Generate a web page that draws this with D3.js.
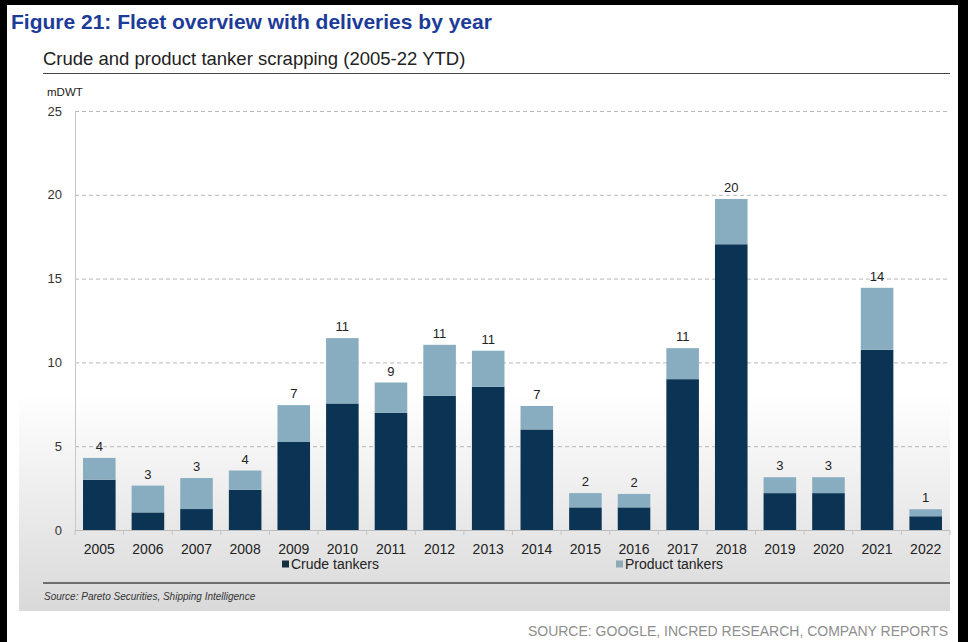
<!DOCTYPE html>
<html>
<head>
<meta charset="utf-8">
<script src="https://cdn.jsdelivr.net/npm/d3@7"></script>
<style>
  html, body { margin: 0; padding: 0; background: #fff; }
  svg { display: block; font-family: "Liberation Sans", Arial, sans-serif; }
</style>
</head>
<body>
<svg id="chart" width="968" height="642"></svg>
<script>
// Tanker scrapping, million DWT per year
const years = ["2005","2006","2007","2008","2009","2010","2011","2012","2013",
               "2014","2015","2016","2017","2018","2019","2020","2021","2022"];
const crude   = [3.0, 1.05, 1.25, 2.4, 5.25, 7.55, 7.0, 8.0, 8.55,
                 6.0, 1.35, 1.35, 9.0, 17.05, 2.2, 2.2, 10.75, 0.82];
const product = [1.3, 1.6, 1.85, 1.15, 2.2, 3.9, 1.8, 3.05, 2.15,
                 1.4, 0.85, 0.8, 1.85, 2.7, 0.95, 0.95, 3.7, 0.42];
const yTicks = [0, 5, 10, 15, 20, 25];
const seriesNames = ["Crude tankers", "Product tankers"];
const seriesColors = ["#0b3353", "#88adc1"];

const svg = d3.select("#chart");
const W = 968, H = 642;

// Panel background: white fading to light grey at the bottom
const defs = svg.append("defs");
const grad = defs.append("linearGradient")
  .attr("id", "panelFade").attr("x1", 0).attr("y1", 0).attr("x2", 0).attr("y2", 1);
grad.append("stop").attr("offset", "0%").attr("stop-color", "#ffffff");
grad.append("stop").attr("offset", "64%").attr("stop-color", "#ffffff");
grad.append("stop").attr("offset", "100%").attr("stop-color", "#d9d9d9");

svg.append("rect").attr("x", 0).attr("y", 0).attr("width", W).attr("height", H).attr("fill", "#fff");
svg.append("rect").attr("x", 19).attr("y", 8).attr("width", 931).attr("height", 603)
  .attr("fill", "url(#panelFade)");

// Frame bands
svg.append("rect").attr("x", 0).attr("y", 0).attr("width", W).attr("height", 5).attr("fill", "#000");
svg.append("rect").attr("x", 0).attr("y", 0).attr("width", 7).attr("height", H).attr("fill", "#000");
svg.append("rect").attr("x", 958).attr("y", 0).attr("width", 10).attr("height", H).attr("fill", "#000");

// Headings
svg.append("text").attr("x", 11).attr("y", 29)
  .attr("font-size", 21).attr("font-weight", "bold").attr("fill", "#1d3b98")
  .text("Figure 21: Fleet overview with deliveries by year");
svg.append("text").attr("x", 43).attr("y", 65)
  .attr("font-size", 18.5).attr("fill", "#222")
  .text("Crude and product tanker scrapping (2005-22 YTD)");
svg.append("line").attr("x1", 43).attr("x2", 950).attr("y1", 73.5).attr("y2", 73.5)
  .attr("stroke", "#444").attr("stroke-width", 1);
svg.append("text").attr("x", 47).attr("y", 96)
  .attr("font-size", 11.5).attr("fill", "#222").text("mDWT");

// Scales
const x = d3.scaleBand().domain(years).range([75, 950]).paddingInner(0.33).paddingOuter(0.165);
const y = d3.scaleLinear().domain([0, 25]).range([530, 111]);

// Grid lines
svg.append("g").selectAll("line").data(yTicks.filter(d => d > 0)).join("line")
  .attr("x1", 75).attr("x2", 950)
  .attr("y1", d => y(d) + 0.5).attr("y2", d => y(d) + 0.5)
  .attr("stroke", "#b8b8b8").attr("stroke-dasharray", "4,3");

// Y axis
const yAxis = svg.append("g").attr("transform", "translate(75,0)")
  .call(d3.axisLeft(y).tickValues(yTicks).tickSize(0).tickPadding(13));
yAxis.select(".domain").attr("stroke", "#c8c8c8");
yAxis.selectAll("text").attr("font-size", 13).attr("fill", "#333")
  .attr("font-family", "Liberation Sans, Arial, sans-serif");

// Stacked bars
const stackData = years.map((yr, i) => ({ year: yr, crude: crude[i], product: product[i] }));
const stacked = d3.stack().keys(["crude", "product"])(stackData);
svg.append("g").selectAll("g").data(stacked).join("g")
  .attr("fill", (d, i) => seriesColors[i])
  .selectAll("rect").data(d => d).join("rect")
  .attr("x", d => x(d.data.year))
  .attr("width", x.bandwidth())
  .attr("y", d => y(d[1]))
  .attr("height", d => y(d[0]) - y(d[1]));

// X axis with ticks between categories
const xg = svg.append("g");
xg.append("line").attr("x1", 75).attr("x2", 950).attr("y1", 530.5).attr("y2", 530.5)
  .attr("stroke", "#bdbdbd");
const bounds = years.map(yr => x(yr) - x.step() * x.paddingInner() / 2).concat([950]);
xg.selectAll("line.tk").data(bounds).join("line").attr("class", "tk")
  .attr("x1", d => d).attr("x2", d => d).attr("y1", 530).attr("y2", 535)
  .attr("stroke", "#c4c4c4");
xg.selectAll("text").data(years).join("text")
  .attr("x", d => x(d) + x.bandwidth() / 2).attr("y", 554)
  .attr("text-anchor", "middle").attr("font-size", 14).attr("fill", "#222")
  .text(d => d);

// Total labels above bars
svg.append("g").selectAll("text").data(stackData).join("text")
  .attr("x", d => x(d.year) + x.bandwidth() / 2)
  .attr("y", d => y(d.crude + d.product) - 7)
  .attr("text-anchor", "middle").attr("font-size", 13).attr("fill", "#222")
  .text(d => Math.round(d.crude + d.product));

// Legend
const legendX = [282, 616];
const lg = svg.append("g").selectAll("g").data(seriesNames).join("g")
  .attr("transform", (d, i) => `translate(${legendX[i]},569)`);
lg.append("rect").attr("x", 0).attr("y", -8.5).attr("width", 7).attr("height", 7)
  .attr("fill", (d, i) => i === 0 ? "#14303f" : "#8fa8b6");
lg.append("text").attr("x", 9).attr("y", 0).attr("font-size", 14).attr("fill", "#222")
  .text(d => d);

// Footer rule and source notes
svg.append("line").attr("x1", 43).attr("x2", 950).attr("y1", 583).attr("y2", 583)
  .attr("stroke", "#6e6e6e").attr("stroke-width", 2);
svg.append("text").attr("x", 44).attr("y", 600)
  .attr("font-size", 10).attr("font-style", "italic").attr("fill", "#333")
  .text("Source: Pareto Securities, Shipping Intelligence");
svg.append("text").attr("x", 948).attr("y", 636).attr("text-anchor", "end")
  .attr("font-size", 14).attr("fill", "#8e8e8e")
  .text("SOURCE: GOOGLE, INCRED RESEARCH, COMPANY REPORTS");
</script>
</body>
</html>
